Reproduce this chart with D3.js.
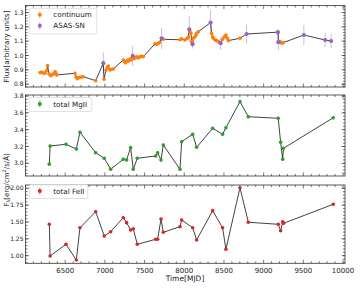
<!DOCTYPE html>
<html><head><meta charset="utf-8">
<script src="https://cdn.jsdelivr.net/npm/d3@7"></script>
<style>
body{margin:0;background:#fff;}
svg{display:block;font-family:"DejaVu Sans",sans-serif;}
</style></head><body>
<svg id="c" width="360" height="288"></svg>
<script>
// ---- data ----
const contT = [6183,6200,6216,6232,6245,6266,6279,6296,6317,6335,6350,6372,6385,6393,
  6623,6636,6652,6668,6686,6705,6728,6884,6989,7014,7030,7043,7064,7085,7106,
  7232,7245,7258,7270,7285,7300,7315,7330,7345,7365,7380,7400,7420,7440,7460,7484,
  7631,7650,7670,7690,7736,7946,7967,8009,8040,8050,8072,8084,8093,8101,
  8114,8135,8147,8156,8177,8345,8357,8366,8387,8408,8429,8483,8504,8525,8542,8554,8702,
  9206,9227,9247];
const contV = [0.880,0.884,0.880,0.878,0.876,0.894,0.929,0.871,0.859,0.866,0.871,0.887,0.875,0.864,
  0.876,0.852,0.838,0.845,0.848,0.850,0.852,0.824,0.834,0.899,0.915,0.927,0.899,0.904,0.906,
  0.969,0.960,0.950,0.958,0.966,0.962,0.975,0.970,0.982,0.978,0.985,0.990,0.982,0.990,0.995,0.992,
  1.081,1.078,1.083,1.092,1.113,1.110,1.116,1.109,1.120,1.128,1.167,1.155,1.097,1.086,
  1.120,1.131,1.143,1.155,1.166,1.155,1.131,1.120,1.108,1.104,1.097,1.113,1.131,1.143,1.120,1.104,1.120,
  1.097,1.086,1.090];
const contE = [0.008,0.008,0.008,0.008,0.008,0.010,0.012,0.010,0.010,0.010,0.010,0.010,0.010,0.010,
  0.010,0.010,0.010,0.010,0.010,0.010,0.010,0.010,0.012,0.012,0.012,0.012,0.010,0.010,0.010,
  0.012,0.015,0.015,0.015,0.012,0.015,0.012,0.015,0.012,0.012,0.012,0.012,0.012,0.012,0.010,0.010,
  0.012,0.012,0.012,0.012,0.012,0.010,0.010,0.010,0.010,0.012,0.012,0.012,0.012,0.012,
  0.012,0.012,0.012,0.012,0.012,0.012,0.012,0.012,0.012,0.012,0.012,0.012,0.012,0.012,0.012,0.012,0.015,
  0.012,0.012,0.012];
const asasT = [6980,7350,7715,8063,8105,8332,8458,8785,9180,9186,9507,9775,9850];
const asasV = [0.946,0.997,1.120,1.183,1.079,1.230,1.086,1.150,1.163,1.093,1.143,1.108,1.101];
const asasE = [0.075,0.070,0.075,0.090,0.030,0.087,0.045,0.065,0.020,0.055,0.070,0.050,0.050];

const specT = [6300,6310,6510,6640,6686,6884,6992,7073,7232,7274,7324,7358,7408,7640,7665,7707,7736,
  7946,7967,8106,8156,8358,8483,8525,8702,8807,9184,9214,9240,9250,9877];
const mgV = [2.990,3.206,3.226,3.170,3.369,3.126,3.060,2.930,3.048,3.040,3.186,2.929,3.060,3.087,3.126,3.040,3.218,
  2.929,3.257,3.345,3.190,3.416,3.345,3.423,3.733,3.554,3.535,3.250,3.048,3.178,3.542];
const mgE = specT.map(() => 0.02);
const feV = [1.466,0.996,1.169,0.936,1.415,1.653,1.292,1.356,1.564,1.490,1.381,1.400,1.169,1.243,1.243,1.545,1.347,
  1.430,1.530,1.415,1.233,1.668,1.415,1.095,2.009,1.496,1.466,1.371,1.504,1.480,1.763];
const feE = specT.map(() => 0.01);

const xTicks = [6500,7000,7500,8000,8500,9000,9500,10000];
const topTicks = [0.8,0.9,1.0,1.1,1.2,1.3];
const midTicks = [3.0,3.2,3.4,3.6,3.8];
const botTicks = [1.00,1.25,1.50,1.75,2.00];

// ---- layout ----
const svg = d3.select("#c");
const L = 25.5, R = 345;
const x = d3.scaleLinear().domain([6000, 10025]).range([L, R]);
const C = {orange:"#ff7f0e", purple:"#9467bd", green:"#2ca02c", red:"#d62728"};

function panel(top, bottom, dom, major, minorStep, fmt, showX) {
  const y = d3.scaleLinear().domain(dom).range([bottom, top]);
  const g = svg.append("g");
  // ticks
  const minorX = d3.range(6000, 10100, 100).filter(v => v >= 6000 && v <= 10025);
  const minorY = d3.range(Math.ceil(dom[0]/minorStep)*minorStep, dom[1], minorStep);
  const tk = g.append("g").attr("stroke", "#222").attr("stroke-width", 0.6);
  minorX.forEach(v => {
    const len = xTicks.includes(v) ? 3.5 : 2;
    tk.append("line").attr("x1", x(v)).attr("x2", x(v)).attr("y1", bottom).attr("y2", bottom - len);
    tk.append("line").attr("x1", x(v)).attr("x2", x(v)).attr("y1", top).attr("y2", top + len);
  });
  minorY.forEach(v => {
    tk.append("line").attr("x1", L).attr("x2", L + 2).attr("y1", y(v)).attr("y2", y(v));
    tk.append("line").attr("x1", R).attr("x2", R - 2).attr("y1", y(v)).attr("y2", y(v));
  });
  major.forEach(v => {
    tk.append("line").attr("x1", L).attr("x2", L + 3.5).attr("y1", y(v)).attr("y2", y(v));
    tk.append("line").attr("x1", R).attr("x2", R - 3.5).attr("y1", y(v)).attr("y2", y(v));
    g.append("text").attr("x", L - 2).attr("y", y(v)).attr("dy", "0.35em")
      .attr("text-anchor", "end").attr("font-size", 6).attr("fill", "#222").text(fmt(v));
  });
  if (showX) {
    xTicks.forEach(v => {
      g.append("text").attr("x", x(v)).attr("y", bottom + 9.5).attr("text-anchor", "middle")
        .attr("font-size", 7).attr("fill", "#222").text(v);
    });
  }
  g.append("rect").attr("x", L).attr("y", top).attr("width", R - L).attr("height", bottom - top)
    .attr("fill", "none").attr("stroke", "#333").attr("stroke-width", 0.8);
  return y;
}

function errs(y, T, V, E, color, op, r) {
  const g = svg.append("g");
  T.forEach((t, i) => {
    g.append("line").attr("x1", x(t)).attr("x2", x(t)).attr("y1", y(V[i] - E[i])).attr("y2", y(V[i] + E[i]))
      .attr("stroke", color).attr("stroke-opacity", op).attr("stroke-width", 1);
  });
  return g;
}
function dots(y, T, V, color, r) {
  svg.append("g").selectAll("circle").data(T).join("circle")
    .attr("cx", t => x(t)).attr("cy", (t, i) => y(V[i])).attr("r", r).attr("fill", color);
}
function line(y, pts) {
  svg.append("path").attr("d", d3.line().x(d => x(d[0])).y(d => y(d[1]))(pts))
    .attr("fill", "none").attr("stroke", "#111").attr("stroke-width", 0.8);
}
function legend(x0, y0, w, h, items) {
  const g = svg.append("g");
  g.append("rect").attr("x", x0).attr("y", y0).attr("width", w).attr("height", h).attr("rx", 1.5)
    .attr("fill", "#fff").attr("fill-opacity", 0.85).attr("stroke", "#ccc").attr("stroke-width", 0.6);
  items.forEach((it, i) => {
    const cy = y0 + 6.5 + i * 11;
    g.append("line").attr("x1", x0 + 10.5).attr("x2", x0 + 10.5).attr("y1", cy - 3.5).attr("y2", cy + 3.5)
      .attr("stroke", it.color).attr("stroke-opacity", 0.6).attr("stroke-width", 1);
    g.append("circle").attr("cx", x0 + 10.5).attr("cy", cy).attr("r", 2).attr("fill", it.color);
    g.append("text").attr("x", x0 + 24).attr("y", cy).attr("dy", "0.35em").attr("font-size", 7.2)
      .attr("fill", "#222").text(it.label);
  });
}

// top panel
const yT = panel(5.5, 87, [0.78, 1.349], topTicks, 0.02, d3.format(".1f"), false);
errs(yT, contT, contV, contE, C.orange, 0.5);
errs(yT, asasT, asasV, asasE, C.purple, 0.45);
const merged = contT.map((t, i) => [t, contV[i]]).concat(asasT.map((t, i) => [t, asasV[i]]))
  .sort((a, b) => a[0] - b[0]);
line(yT, merged);
dots(yT, contT, contV, C.orange, 1.8);
dots(yT, asasT, asasV, C.purple, 2.1);
legend(29.3, 8.3, 67.4, 25.7, [{label:"continuum", color:C.orange}, {label:"ASAS-SN", color:C.purple}]);

// middle panel
const yM = panel(95, 176, [2.849, 3.812], midTicks, 0.04, d3.format(".1f"), false);
errs(yM, specT, mgV, mgE, C.green, 0.8);
line(yM, specT.map((t, i) => [t, mgV[i]]));
dots(yM, specT, mgV, C.green, 1.8);
legend(29.3, 97.5, 62.5, 14, [{label:"total MgII", color:C.green}]);

// bottom panel
const yB = panel(185, 263.3, [0.887, 2.049], botTicks, 0.05, d3.format(".2f"), true);
errs(yB, specT, feV, feE, C.red, 0.8);
line(yB, specT.map((t, i) => [t, feV[i]]));
dots(yB, specT, feV, C.red, 1.8);
legend(29.3, 184.5, 58.5, 14, [{label:"total FeII", color:C.red}]);

// axis labels
svg.append("text").attr("transform", "translate(8.5,46.5) rotate(-90)").attr("text-anchor", "middle")
  .attr("font-size", 7.2).attr("fill", "#222").text("Flux[arbitrary units]");
const fl = svg.append("text").attr("transform", "translate(8.5,180) rotate(-90)").attr("text-anchor", "middle")
  .attr("font-size", 7).attr("fill", "#222");
fl.append("tspan").text("F");
fl.append("tspan").attr("font-size", 5).attr("dy", 1.5).text("λ");
fl.append("tspan").attr("dy", -1.5).text("[erg/cm");
fl.append("tspan").attr("font-size", 5).attr("dy", -2.5).text("2");
fl.append("tspan").attr("dy", 2.5).text("/s/Å]");
svg.append("text").attr("x", 185).attr("y", 281).attr("text-anchor", "middle")
  .attr("font-size", 7.5).attr("fill", "#222").text("Time[MJD]");
</script></body></html>
